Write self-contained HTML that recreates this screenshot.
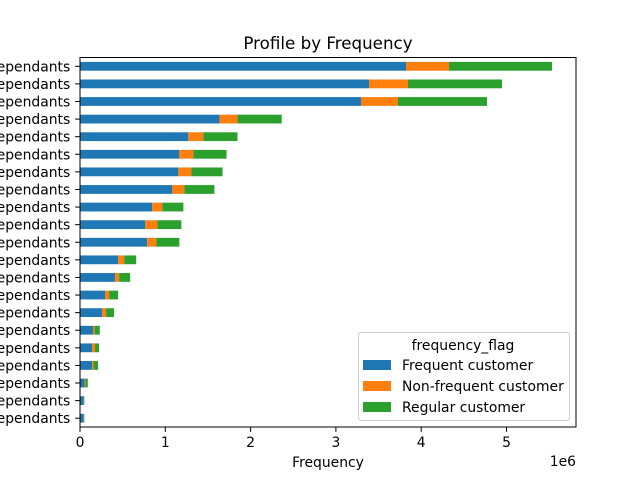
<!DOCTYPE html>
<html><head><meta charset="utf-8"><style>
body{margin:0;background:#fff}
svg text{font-family:"DejaVu Sans","Liberation Sans",sans-serif;fill:#000}
</style></head><body>
<svg id="chart" width="640" height="480" xmlns="http://www.w3.org/2000/svg">
<rect width="640" height="480" fill="#fff"/>
<text x="328" y="49" font-size="16.7" text-anchor="middle">Profile by Frequency</text>
<g id="bars"></g>
<g id="yaxis"></g>
<g id="xaxis"></g>
<rect x="80" y="57.5" width="496" height="369.5" fill="none" stroke="#000" stroke-width="1"/>
<text x="328" y="467" font-size="13.9" text-anchor="middle">Frequency</text>
<text x="576" y="466" font-size="13.9" text-anchor="end">1e6</text>
<g>
<rect x="358.5" y="332.5" width="211" height="88" rx="3" fill="#fff" fill-opacity="0.8" stroke="#ccc"/>
<text x="463" y="350" font-size="13.9" text-anchor="middle">frequency_flag</text>
<rect x="363" y="360" width="28" height="10" fill="#1f77b4"/>
<text x="402" y="370" font-size="13.9">Frequent customer</text>
<rect x="363" y="381" width="28" height="10" fill="#ff7f0e"/>
<text x="402" y="391" font-size="13.9">Non-frequent customer</text>
<rect x="363" y="402" width="28" height="10" fill="#2ca02c"/>
<text x="402" y="412" font-size="13.9">Regular customer</text>
</g>
</svg>
<script>
const categories=["young married parent, multiple dependants","middle-aged married parent, multiple dependants","senior married parent, multiple dependants","young married parent, one dependants","middle-aged married parent, one dependants","senior married parent, one dependants","young single parent, multiple dependants","middle-aged single, no dependants","senior single, no dependants","young single, no dependants","middle-aged single parent, multiple dependants","senior single parent, multiple dependants","young single parent, one dependants","middle-aged single parent, one dependants","senior single parent, one dependants","young married, no dependants","middle-aged married, no dependants","senior married, no dependants","young divorced, no dependants","middle-aged divorced, no dependants","senior divorced, no dependants"];
const frequent=[3.822,3.388,3.294,1.635,1.27,1.165,1.153,1.082,0.847,0.765,0.788,0.447,0.412,0.294,0.259,0.153,0.141,0.141,0.055,0.041,0.041];
const nonFrequent=[0.504,0.457,0.434,0.212,0.176,0.165,0.153,0.141,0.118,0.141,0.106,0.071,0.047,0.047,0.047,0.018,0.035,0.018,0.01,0.004,0.004];
const regular=[1.208,1.102,1.043,0.518,0.4,0.388,0.365,0.353,0.247,0.282,0.271,0.141,0.129,0.106,0.094,0.061,0.047,0.053,0.026,0.006,0.006];
const xTicks=[0,1,2,3,4,5];
const NS="http://www.w3.org/2000/svg";
const X0=80,PX=85.3,TOP=57.5,BOT=427,n=categories.length;
const step=(BOT-TOP)/n;
function xs(v){return X0+v*PX;}
function ys(i){return TOP+step*(i+0.5);}
function mk(tag,attrs,parent){const e=document.createElementNS(NS,tag);for(const k in attrs)e.setAttribute(k,attrs[k]);parent.appendChild(e);return e;}
const bars=document.getElementById('bars'),ya=document.getElementById('yaxis'),xa=document.getElementById('xaxis');
const series=[[frequent,'#1f77b4','frequent'],[nonFrequent,'#ff7f0e','non-frequent'],[regular,'#2ca02c','regular']];
const h=step*0.5;
for(let i=0;i<n;i++){
  let acc=0;
  for(const [arr,col,nm] of series){
    const r=mk('rect',{x:xs(acc),y:ys(i)-h/2,width:xs(acc+arr[i])-xs(acc),height:h,fill:col},bars);
    
    
    acc+=arr[i];
  }
  const t=mk('line',{x1:X0-4.9,x2:X0,y1:ys(i),y2:ys(i),stroke:'#000'},ya);
  
  
  const l=mk('text',{x:X0-9.8,y:ys(i)+5,'font-size':13.9,'text-anchor':'end'},ya);
  l.textContent=categories[i];
  
  
}
for(const v of xTicks){
  const t=mk('line',{x1:xs(v),x2:xs(v),y1:BOT,y2:BOT+4.9,stroke:'#000'},xa);
  
  
  const l=mk('text',{x:xs(v),y:BOT+20,'font-size':13.9,'text-anchor':'middle'},xa);
  l.textContent=String(v);
  
  
}
</script>
</body></html>
